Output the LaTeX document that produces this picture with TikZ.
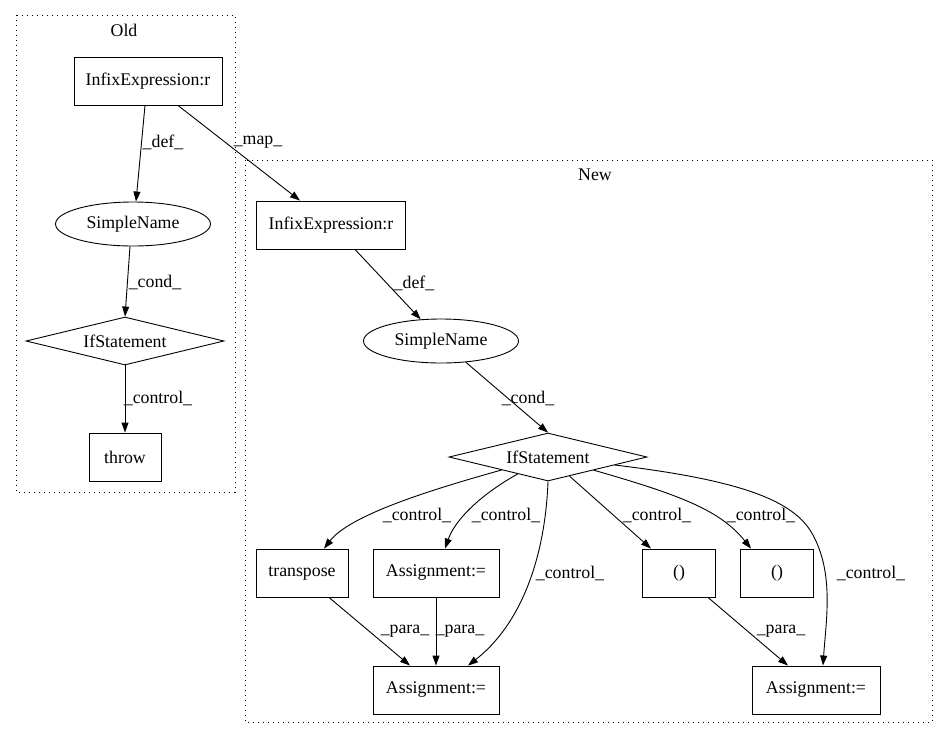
\documentclass[tikz,border=0pt]{standalone}
\usepackage{fontspec}
\setmainfont{Liberation Serif}
\usetikzlibrary{shapes.geometric,arrows.meta}
\begin{document}
\begin{tikzpicture}[x=1pt,y=-1pt,
  every node/.style={font=\fontsize{17.8pt}{20pt}\selectfont},
  box/.style={draw,line width=0.9pt,rectangle,minimum height=48pt,inner sep=0pt},
  oval/.style={draw,line width=0.9pt,ellipse,minimum width=155pt,minimum height=44pt,inner sep=0pt},
  dia/.style={draw,line width=0.9pt,diamond,aspect=4.1,minimum width=198pt,minimum height=48pt,inner sep=0pt},
  clus/.style={draw,line width=0.9pt,dash pattern=on 1.2pt off 3.8pt},
  edge/.style={draw,line width=0.9pt,-{Triangle[length=10pt,width=7pt]}},
  lbl/.style={inner sep=0pt}]
\useasboundingbox (0,0) rectangle (949,740);
% clusters
\draw[clus] (16,15) rectangle (235,492);
\node[lbl] (oldlbl) at (124,30) {Old};
\draw[clus] (245,160) rectangle (932,722);
\node[lbl] (newlbl) at (595,175) {New};
% old nodes
\node[box,minimum width=148pt] (oinf) at (148,81) {InfixExpression:r};
\node[oval] (osn) at (133,224) {SimpleName};
\node[dia] (oif) at (125,341) {IfStatement};
\node[box,minimum width=72pt] (othrow) at (125,457) {throw};
% new nodes
\node[box,minimum width=149pt] (ninf) at (331,225) {InfixExpression:r};
\node[oval] (nsn) at (441,341) {SimpleName};
\node[dia] (nif) at (548,457) {IfStatement};
\node[box,minimum width=92pt] (ntr) at (302,573) {transpose};
\node[box,minimum width=126pt] (nas1) at (436,573) {Assignment:=};
\node[box,minimum width=73pt] (np1) at (679,573) {()};
\node[box,minimum width=73pt] (np2) at (777,573) {()};
\node[box,minimum width=126pt] (nas2) at (436,690) {Assignment:=};
\node[box,minimum width=128pt] (nas3) at (816,690) {Assignment:=};
% old edges
\draw[edge] (oinf.south -| 145,0) -- (osn.north -| 136,0);
\node[lbl] (l1) at (163,142) {\_def\_};
\draw[edge] (oinf.south -| 178,0) -- (ninf.north -| 300,0);
\node[lbl] (l2) at (258,142) {\_map\_};
\draw[edge] (osn.south -| 130,0) -- (oif.north);
\node[lbl] (l3) at (155,282) {\_cond\_};
\draw[edge] (oif.south) -- (othrow.north);
\node[lbl] (l4) at (158,398) {\_control\_};
% new edges
\draw[edge] (ninf.south -| 355,0) -- (nsn);
\node[lbl] (l5) at (414,283) {\_def\_};
\draw[edge] (nsn) -- (nif.north);
\node[lbl] (l6) at (528,398) {\_cond\_};
\draw[edge] (nif) .. controls (430,490) and (350,515) .. (ntr.north -| 324,0);
\node[lbl] (l7) at (417,515) {\_control\_};
\draw[edge] (nif) .. controls (480,495) and (455,520) .. (nas1.north -| 445,0);
\node[lbl] (l8) at (506,515) {\_control\_};
\draw[edge] (nif.south) .. controls (545,560) and (520,625) .. (nas2.north -| 468,0);
\node[lbl] (l9) at (570,573) {\_control\_};
\draw[edge] (nif) -- (np1.north -| 651,0);
\node[lbl] (l10) at (657,515) {\_control\_};
\draw[edge] (nif) .. controls (680,495) and (720,510) .. (np2.north -| 751,0);
\node[lbl] (l11) at (761,515) {\_control\_};
\draw[edge] (nif) .. controls (740,480) and (790,500) .. (810,530) .. controls (835,570) and (826,620) .. (nas3.north -| 823,0);
\node[lbl] (l12) at (871,573) {\_control\_};
\draw[edge] (ntr.south -| 329,0) -- (nas2.north -| 410,0);
\node[lbl] (l13) at (405,631) {\_para\_};
\draw[edge] (nas1.south) -- (nas2.north);
\node[lbl] (l14) at (460,631) {\_para\_};
\draw[edge] (np1.south -| 708,0) -- (nas3.north -| 788,0);
\node[lbl] (l15) at (781,631) {\_para\_};
\end{tikzpicture}
\end{document}
